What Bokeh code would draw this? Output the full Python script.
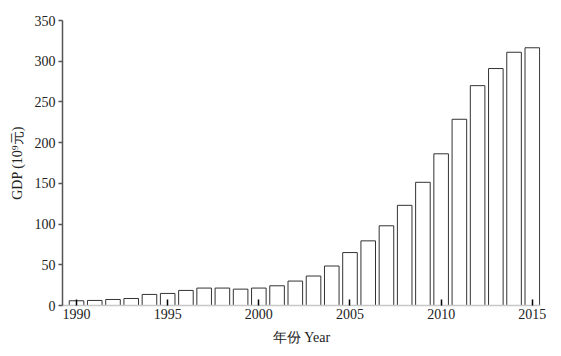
from bokeh.plotting import figure
from bokeh.models import Range1d, FixedTicker
from bokeh.embed import file_html
from bokeh.resources import INLINE

years = list(range(1990, 2016))
gdp = [5.8, 6.2, 7.4, 8.6, 13.6, 14.8, 18.5, 21.4, 21.4, 20.1, 21.4, 24.2, 30.0,
       36.2, 48.5, 65.0, 79.4, 97.9, 123.0, 151.3, 186.3, 228.7, 270.0, 291.0, 311.0, 316.5]
x_ticks = [1990, 1995, 2000, 2005, 2010, 2015]
y_ticks = [0, 50, 100, 150, 200, 250, 300, 350]

FONT = "Liberation Serif"

p = figure(width=561, height=356, output_backend="svg", toolbar_location=None,
           x_range=Range1d(1989.23, 2015.45), y_range=Range1d(0, 350))
p.min_border_left = 62
p.min_border_right = 21
p.min_border_top = 20
p.min_border_bottom = 51
p.outline_line_color = None
p.grid.visible = False
p.background_fill_color = "white"
p.border_fill_color = "white"

p.vbar(x=years, top=gdp, width=0.8, bottom=0, fill_color="white",
       line_color="#333333", line_width=1)

xa = p.xaxis[0]
xa.ticker = FixedTicker(ticks=x_ticks)
xa.axis_line_color = "#c8c8c8"
xa.axis_line_width = 1.5
xa.major_tick_in = 6
xa.major_tick_out = 0
xa.major_tick_line_color = "black"
xa.major_tick_line_width = 1.5
xa.minor_tick_line_color = None
xa.major_label_text_font = FONT
xa.major_label_text_font_size = "14px"
xa.major_label_text_color = "#222222"
xa.major_label_standoff = 3
xa.axis_label = "年份 Year"
xa.axis_label_text_font = FONT
xa.axis_label_text_font_size = "14px"
xa.axis_label_text_font_style = "normal"
xa.axis_label_text_color = "#222222"
xa.axis_label_standoff = 8

ya = p.yaxis[0]
ya.ticker = FixedTicker(ticks=y_ticks)
ya.axis_line_color = "#555555"
ya.axis_line_width = 1.5
ya.major_tick_in = 0
ya.major_tick_out = 4
ya.major_tick_line_color = "#555555"
ya.major_tick_line_width = 1.5
ya.minor_tick_line_color = None
ya.major_label_text_font = FONT
ya.major_label_text_font_size = "14px"
ya.major_label_text_color = "#222222"
ya.major_label_standoff = 3
ya.axis_label = "GDP (10⁹元)"
ya.axis_label_text_font = FONT
ya.axis_label_text_font_size = "14px"
ya.axis_label_text_font_style = "normal"
ya.axis_label_text_color = "#222222"
ya.axis_label_standoff = 7

open("out.html", "w").write(file_html(p, INLINE))
